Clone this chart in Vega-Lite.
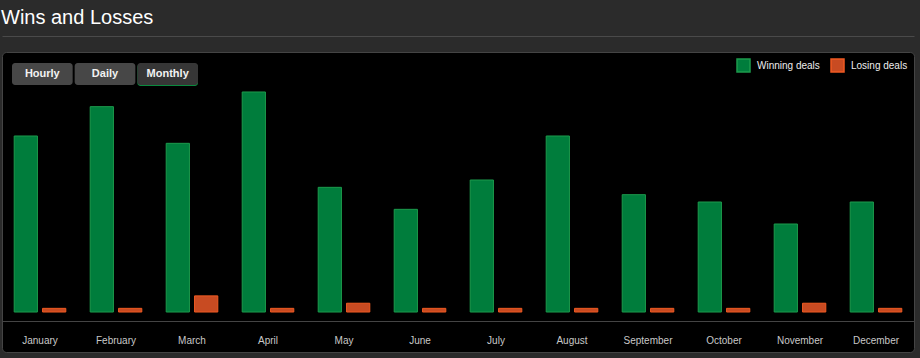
{
  "$schema": "https://vega.github.io/schema/vega-lite/v6.json",
  "width": 912,
  "height": 300,
  "autosize": {"type": "none"},
  "padding": {"left": 2, "top": 52, "right": 6, "bottom": 6},
  "background": "#2b2b2b",
  "title": {
    "text": "Wins and Losses",
    "anchor": "start",
    "frame": "group",
    "fontSize": 20,
    "font": "Liberation Sans",
    "fontWeight": "normal",
    "color": "#ffffff",
    "baseline": "alphabetic",
    "offset": -8,
    "dx": -1
  },
  "config": {
    "view": {"fill": "#000000", "stroke": "#444444", "cornerRadius": 4},
    "font": "Liberation Sans"
  },
  "datasets": {
    "deals": [
      {"month": "January", "type": "Winning deals", "deals": 24},
      {"month": "January", "type": "Losing deals", "deals": 0.5},
      {"month": "February", "type": "Winning deals", "deals": 28},
      {"month": "February", "type": "Losing deals", "deals": 0.5},
      {"month": "March", "type": "Winning deals", "deals": 23},
      {"month": "March", "type": "Losing deals", "deals": 2.2},
      {"month": "April", "type": "Winning deals", "deals": 30},
      {"month": "April", "type": "Losing deals", "deals": 0.5},
      {"month": "May", "type": "Winning deals", "deals": 17},
      {"month": "May", "type": "Losing deals", "deals": 1.2},
      {"month": "June", "type": "Winning deals", "deals": 14},
      {"month": "June", "type": "Losing deals", "deals": 0.5},
      {"month": "July", "type": "Winning deals", "deals": 18},
      {"month": "July", "type": "Losing deals", "deals": 0.5},
      {"month": "August", "type": "Winning deals", "deals": 24},
      {"month": "August", "type": "Losing deals", "deals": 0.5},
      {"month": "September", "type": "Winning deals", "deals": 16},
      {"month": "September", "type": "Losing deals", "deals": 0.5},
      {"month": "October", "type": "Winning deals", "deals": 15},
      {"month": "October", "type": "Losing deals", "deals": 0.5},
      {"month": "November", "type": "Winning deals", "deals": 12},
      {"month": "November", "type": "Losing deals", "deals": 1.2},
      {"month": "December", "type": "Winning deals", "deals": 15},
      {"month": "December", "type": "Losing deals", "deals": 0.5}
    ],
    "buttons": [
      {"button": "Hourly", "bar": "range", "active": "no"},
      {"button": "Daily", "bar": "range", "active": "no"},
      {"button": "Monthly", "bar": "range", "active": "yes"}
    ]
  },
  "layer": [
    {
      "data": {"name": "deals"},
      "mark": {"type": "point", "opacity": 0},
      "encoding": {
        "x": {
          "field": "month",
          "type": "nominal",
          "sort": ["January", "February", "March", "April", "May", "June", "July", "August", "September", "October", "November", "December"],
          "scale": {"paddingInner": 0, "paddingOuter": 0},
          "axis": {
            "orient": "top",
            "offset": 16,
            "labels": false,
            "ticks": false,
            "title": null,
            "grid": false,
            "domainColor": "#4a4a4a"
          }
        }
      }
    },
    {
      "data": {"name": "deals"},
      "mark": {"type": "bar", "strokeWidth": 1},
      "encoding": {
        "x": {
          "field": "month",
          "type": "nominal",
          "sort": ["January", "February", "March", "April", "May", "June", "July", "August", "September", "October", "November", "December"],
          "scale": {"paddingInner": 0, "paddingOuter": 0},
          "axis": {
            "orient": "bottom",
            "offset": -31,
            "title": null,
            "domainColor": "#444444",
            "ticks": false,
            "labelPadding": 14,
            "labelColor": "#c8c8c8",
            "labelFontSize": 10,
            "labelAngle": 0,
            "grid": false
          }
        },
        "xOffset": {
          "field": "type",
          "type": "nominal",
          "sort": ["Winning deals", "Losing deals"],
          "scale": {"paddingInner": 0.18, "paddingOuter": 0.43}
        },
        "y": {
          "field": "deals",
          "type": "quantitative",
          "scale": {"domain": [-5.45, 35.45], "nice": false},
          "axis": null
        },
        "color": {
          "field": "type",
          "type": "nominal",
          "scale": {"domain": ["Winning deals", "Losing deals"], "range": ["#007d3c", "#c84b22"]},
          "legend": {
            "title": null,
            "orient": "top-right",
            "direction": "horizontal",
            "offset": 6,
            "padding": 0,
            "symbolType": "square",
            "symbolSize": 169,
            "symbolStrokeWidth": 1.5,
            "symbolOpacity": 1,
            "columnPadding": 8,
            "labelOffset": 6,
            "labelColor": "#eeeeee",
            "labelFontSize": 10,
            "labelFont": "Liberation Sans",
            "encode": {
              "symbols": {
                "update": {
                  "stroke": {"signal": "datum.value === 'Winning deals' ? '#1c9a4c' : '#f05a22'"},
                  "fillOpacity": {"value": 1}
                }
              }
            }
          }
        },
        "stroke": {
          "field": "type",
          "type": "nominal",
          "scale": {"domain": ["Winning deals", "Losing deals"], "range": ["#1c9a4c", "#f05a22"]},
          "legend": null
        }
      }
    },
    {
      "data": {"name": "buttons"},
      "encoding": {
        "x": {
          "field": "button",
          "type": "nominal",
          "sort": ["Hourly", "Daily", "Monthly"],
          "scale": {"range": [10, 196], "paddingInner": 0.0323, "paddingOuter": 0},
          "axis": null
        },
        "y": {
          "field": "bar",
          "type": "nominal",
          "scale": {"range": [11, 33], "paddingInner": 0, "paddingOuter": 0},
          "axis": null
        }
      },
      "layer": [
        {
          "transform": [{"filter": "datum.active == 'yes'"}],
          "mark": {"type": "rect", "color": "#0a8a3e", "yOffset": 1, "cornerRadius": 3}
        },
        {
          "mark": {"type": "rect", "cornerRadius": 3},
          "encoding": {
            "color": {
              "condition": {"test": "datum.active == 'yes'", "value": "#363636"},
              "value": "#474747"
            }
          }
        },
        {
          "mark": {"type": "text", "color": "#f2f2f2", "fontSize": 11, "fontWeight": "bold", "font": "Liberation Sans"},
          "encoding": {"text": {"field": "button"}}
        }
      ]
    }
  ],
  "resolve": {
    "scale": {"x": "independent", "y": "independent", "color": "independent"},
    "axis": {"x": "independent", "y": "independent"}
  }
}
